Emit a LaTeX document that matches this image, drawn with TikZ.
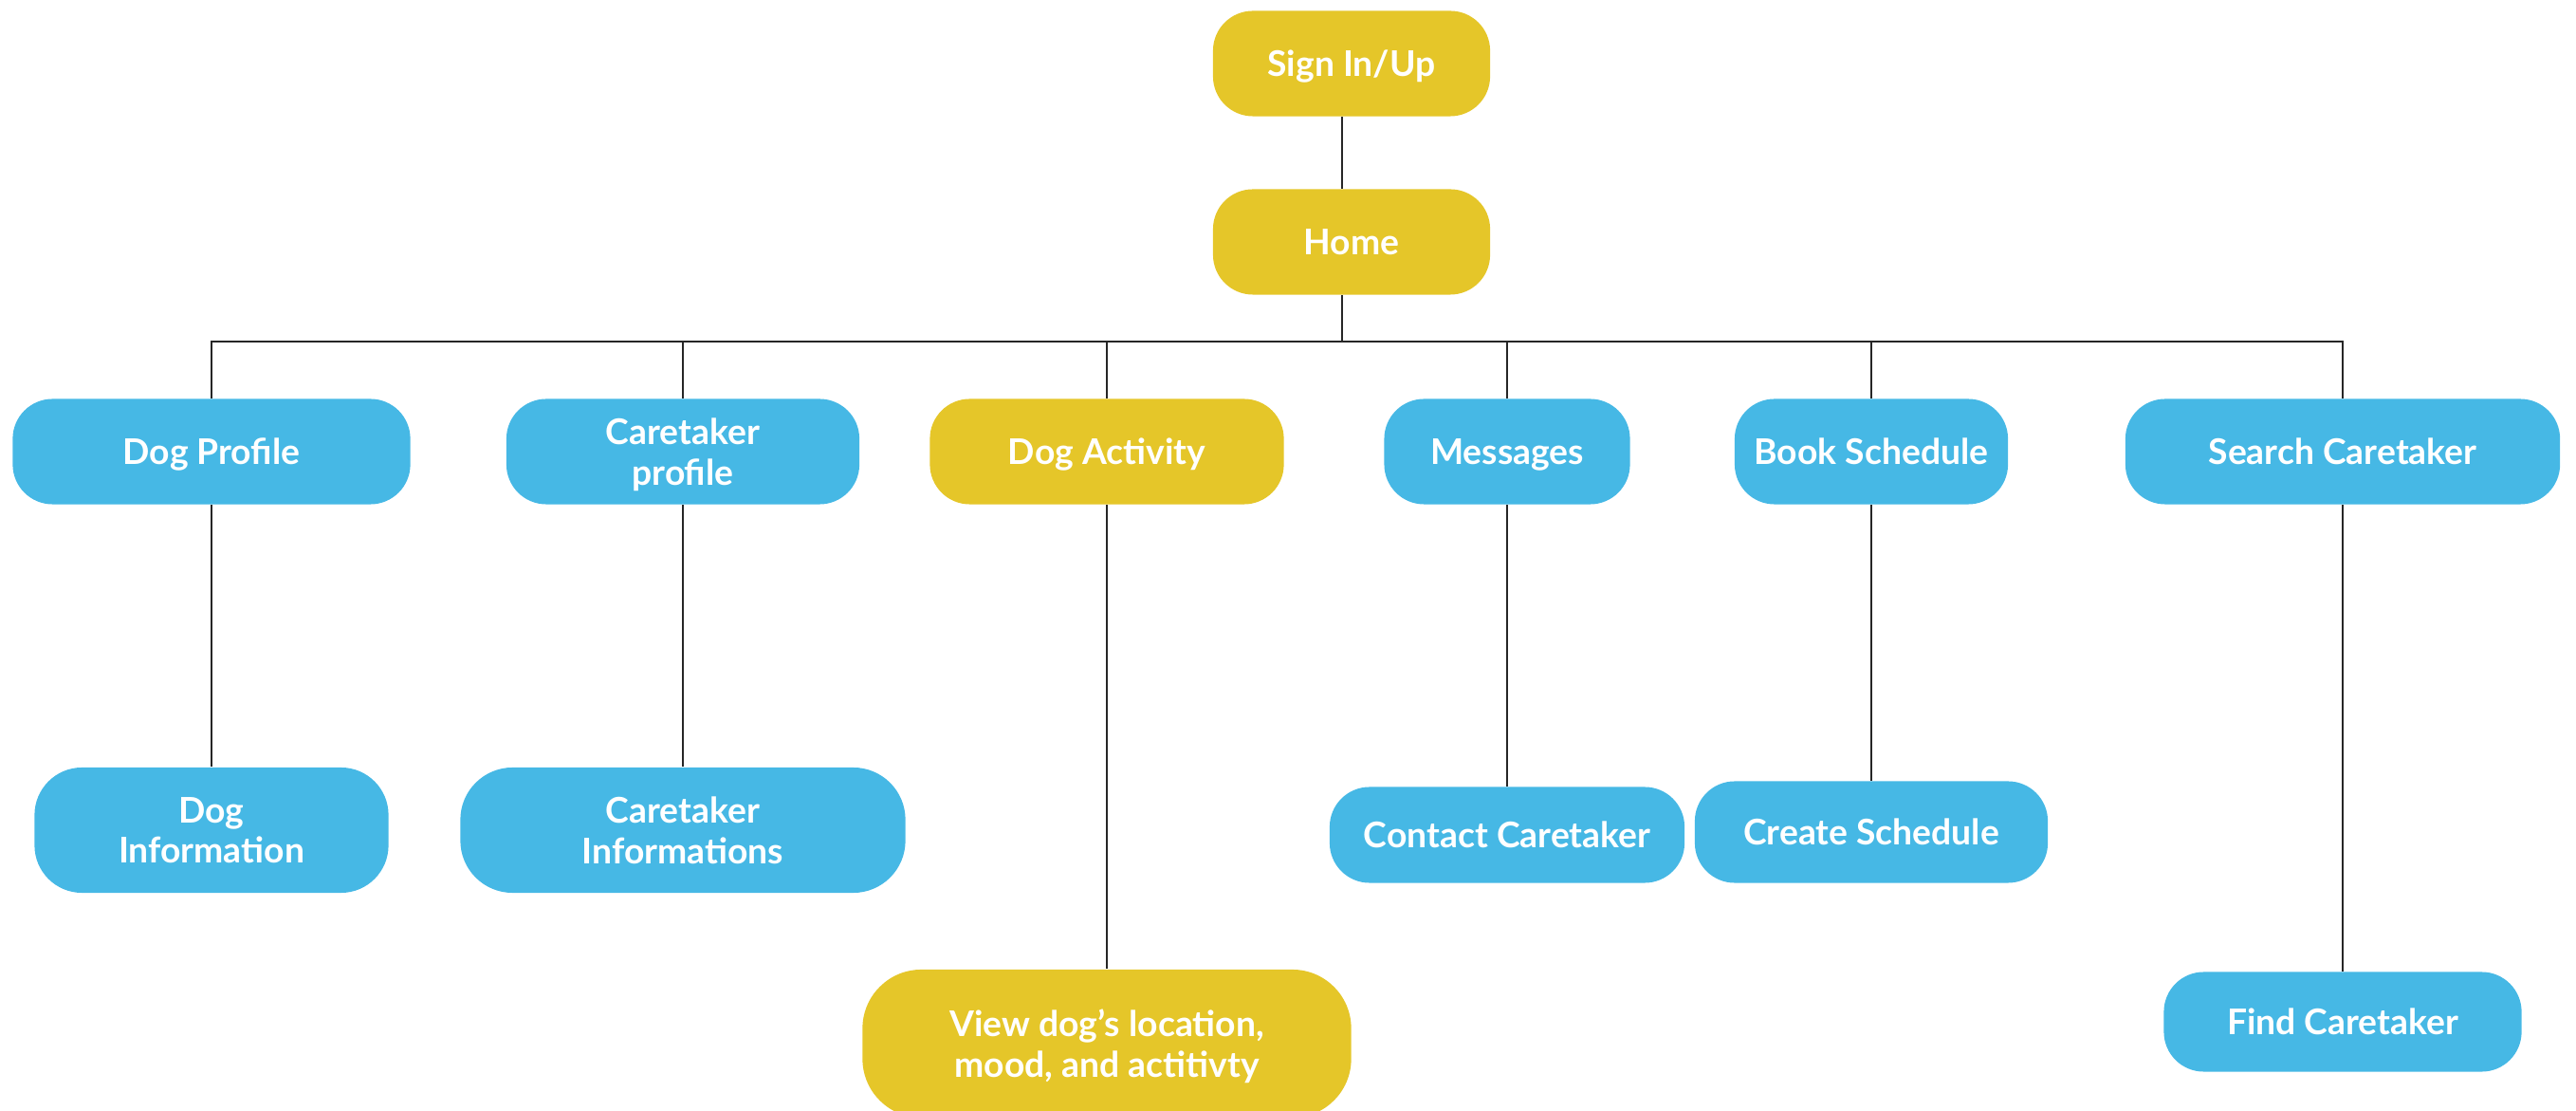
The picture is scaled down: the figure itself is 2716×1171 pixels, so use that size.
\documentclass[tikz,border=0pt]{standalone}
\usepackage{fontspec}
\setmainfont{Lato}
\usepackage{tikz}

\definecolor{sitemapyellow}{HTML}{E5C629}
\definecolor{sitemapblue}{HTML}{46B8E5}

\begin{document}
\begin{tikzpicture}[x=0.01cm, y=-0.01cm,
		box/.style={rounded corners=0.42cm, minimum height=1.11cm, inner sep=0pt, text depth=0pt, align=center, text=white, font=\fontsize{10.6}{12.2}\selectfont\bfseries},
		yellowbox/.style={box, fill=sitemapyellow},
		bluebox/.style={box, fill=sitemapblue},
		link/.style={line width=0.6pt, black!85}]
			\useasboundingbox (0,0) rectangle (2716,1171);
			
			\coordinate (bus) at (1415,360);
			
			% top
			\node [yellowbox, minimum width=2.92cm] (signin) at (1425,67) {Sign In/Up};
			\node [yellowbox, minimum width=2.92cm] (home) at (1425,255) {Home};
			
			% pages
			\node [bluebox, minimum width=4.19cm] (dogprofile) at (223,476) {Dog Profile};
			\node [bluebox, minimum width=3.72cm] (careprofile) at (720,476) {Caretaker\\profile};
			\node [yellowbox, minimum width=3.73cm] (activity) at (1167,476) {Dog Activity};
			\node [bluebox, minimum width=2.59cm] (messages) at (1589,476) {Messages};
			\node [bluebox, minimum width=2.88cm] (booking) at (1973,476) {Book Schedule};
			\node [bluebox, minimum width=4.58cm] (search) at (2470,476) {Search Caretaker};
			
			% sub pages
			\node [bluebox, minimum width=3.73cm, minimum height=1.32cm, rounded corners=0.5cm] (doginfo) at (223,875) {Dog\\Information};
			\node [bluebox, minimum width=4.69cm, minimum height=1.32cm, rounded corners=0.55cm] (careinfo) at (720,875) {Caretaker\\Informations};
			\node [yellowbox, minimum width=5.15cm, minimum height=1.56cm, rounded corners=0.62cm] (viewdog) at (1167,1100) {View dog's location,\\ mood, and actitivty};
			\node [bluebox, minimum width=3.74cm, minimum height=1.01cm] (contact) at (1589,880) {Contact Caretaker};
			\node [bluebox, minimum width=3.72cm, minimum height=1.07cm] (create) at (1973,877) {Create Schedule};
			\node [bluebox, minimum width=3.77cm, minimum height=1.05cm] (find) at (2470,1077) {Find Caretaker};
			
			\draw [link] (signin.south -| bus) -- (home.north -| bus);
			\draw [link] (home.south -| bus) -- (bus);
			\draw [link] (dogprofile.north) -- (dogprofile.north |- bus) -- (search.north |- bus) -- (search.north);
			\draw [link] (careprofile.north) -- (careprofile.north |- bus);
			\draw [link] (activity.north) -- (activity.north |- bus);
			\draw [link] (messages.north) -- (messages.north |- bus);
			\draw [link] (booking.north) -- (booking.north |- bus);
			
			\draw [link] (dogprofile) -- (doginfo);
			\draw [link] (careprofile) -- (careinfo);
			\draw [link] (activity) -- (viewdog);
			\draw [link] (messages) -- (contact);
			\draw [link] (booking) -- (create);
			\draw [link] (search) -- (find);
		\end{tikzpicture}
\end{document}
